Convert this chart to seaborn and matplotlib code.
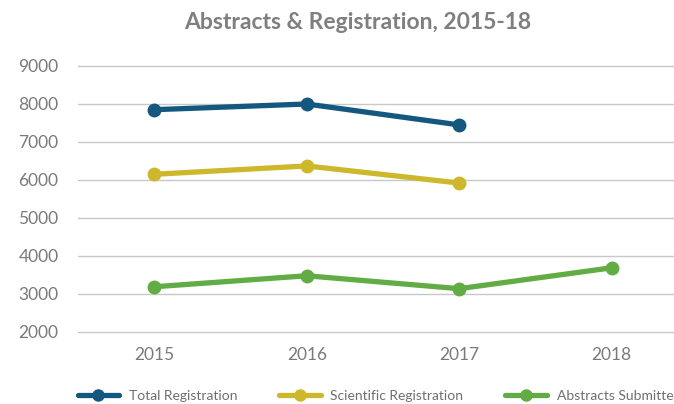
import matplotlib
matplotlib.use("Agg")
import matplotlib.pyplot as plt
import pandas as pd
import seaborn as sns

years = ["2015", "2016", "2017", "2018"]
total_registration = [7850, 8000, 7450]
scientific_registration = [6150, 6370, 5920]
abstracts_submitted = [3190, 3480, 3140, 3690]

series_names = ["Total Registration", "Scientific Registration", "Abstracts Submitted"]
colors = ["#14577f", "#cdb82c", "#62ac45"]

rows = []
for name, vals in zip(series_names, [total_registration, scientific_registration, abstracts_submitted]):
    for yr, v in zip(years, vals):
        rows.append({"year": yr, "value": v, "series": name})
df = pd.DataFrame(rows)

sns.set_style("white")
plt.rcParams["font.family"] = ["Lato", "DejaVu Sans"]

fig = plt.figure(figsize=(6.74, 4.04), dpi=100)
ax = fig.add_axes([78 / 674, 72 / 404, 610 / 674, 266 / 404])

sns.lineplot(data=df, x="year", y="value", hue="series", hue_order=series_names,
             palette=colors, linewidth=3.8, marker="o", markersize=10,
             markeredgewidth=0, sort=False, ax=ax)
for line in ax.lines:
    line.set_clip_on(False)

ax.set_xlim(-0.5, 3.5)
ax.set_ylim(2000, 9000)
ax.set_yticks(range(2000, 9001, 1000))
ax.yaxis.grid(True, color="#c8c8c8", linewidth=1)
for g in ax.yaxis.get_gridlines():
    g.set_clip_on(False)
ax.set_axisbelow(True)
for s in ax.spines.values():
    s.set_visible(False)
ax.tick_params(axis="both", length=0, labelsize=12.5, colors="#7a7a7a")
ax.tick_params(axis="y", pad=14)
ax.tick_params(axis="x", pad=11)
ax.set_xlabel("")
ax.set_ylabel("")

fig.suptitle("Abstracts & Registration, 2015-18", x=0.53, y=0.97,
             fontsize=16.5, fontweight="bold", color="#7f7f7f")

handles, labels = ax.get_legend_handles_labels()
ax.legend_.remove()
for h in handles:
    h.set_markersize(9)
fig.legend(handles, labels, loc="center left", bbox_to_anchor=(72 / 674, 1 - 396 / 404),
           ncol=3, frameon=False, fontsize=10, handlelength=3, handletextpad=0.7,
           columnspacing=3.0, labelcolor="#6f6f6f", borderaxespad=0)

fig.savefig("out.png", dpi=100)
